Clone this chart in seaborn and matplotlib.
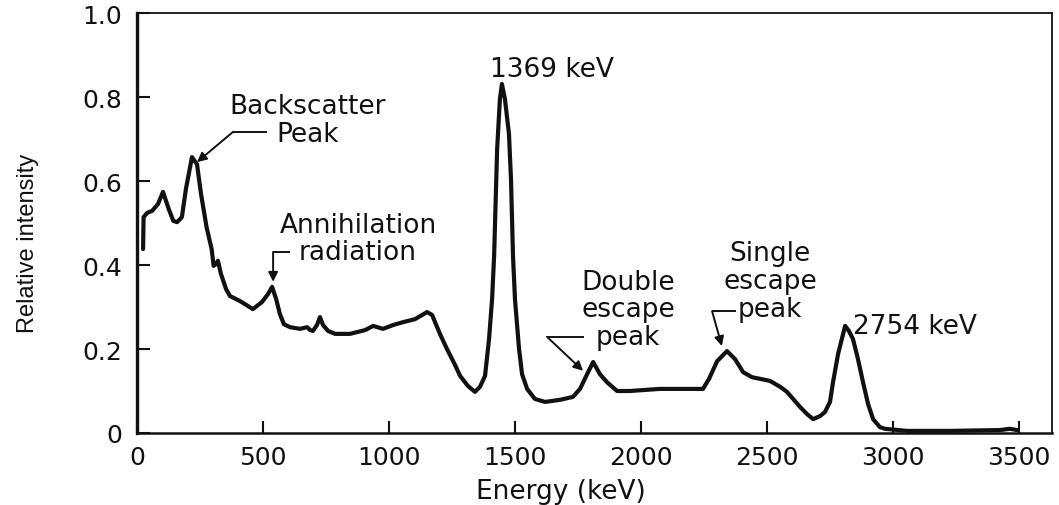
import matplotlib
matplotlib.use("Agg")
import matplotlib.pyplot as plt
import seaborn as sns
import pandas as pd

# ---- data ----
energy_kev = [24, 26, 40, 60, 83, 103, 126, 144, 159, 178, 194, 218, 238, 254, 276, 296,
              304, 313, 321, 333, 353, 369, 409, 460, 496, 520, 536, 552, 567, 583, 607,
              647, 675, 687, 698, 714, 726, 738, 758, 786, 845, 905, 937, 976, 1016, 1056,
              1103, 1151, 1171, 1202, 1230, 1262, 1282, 1313, 1341, 1361, 1381, 1397, 1409,
              1417, 1429, 1440, 1448, 1460, 1476, 1484, 1492, 1500, 1516, 1528, 1548, 1579,
              1619, 1679, 1730, 1758, 1786, 1810, 1837, 1865, 1905, 1956, 2075, 2194, 2246,
              2270, 2302, 2341, 2373, 2405, 2440, 2472, 2512, 2552, 2579, 2611, 2631, 2659,
              2683, 2710, 2730, 2750, 2762, 2782, 2810, 2825, 2841, 2861, 2881, 2901, 2921,
              2948, 2968, 3056, 3226, 3425, 3464, 3492]
intensity = [0.438, 0.514, 0.524, 0.529, 0.545, 0.574, 0.533, 0.505, 0.502, 0.514, 0.581,
             0.657, 0.640, 0.569, 0.490, 0.438, 0.398, 0.402, 0.410, 0.379, 0.343, 0.326,
             0.314, 0.295, 0.312, 0.331, 0.348, 0.319, 0.283, 0.259, 0.252, 0.248, 0.252,
             0.245, 0.243, 0.257, 0.276, 0.257, 0.243, 0.236, 0.236, 0.245, 0.255, 0.248,
             0.257, 0.264, 0.271, 0.288, 0.281, 0.236, 0.200, 0.162, 0.136, 0.112, 0.098,
             0.110, 0.136, 0.224, 0.319, 0.421, 0.676, 0.795, 0.831, 0.795, 0.712, 0.605,
             0.421, 0.317, 0.200, 0.140, 0.105, 0.081, 0.074, 0.079, 0.086, 0.105, 0.140,
             0.169, 0.140, 0.121, 0.100, 0.100, 0.105, 0.105, 0.105, 0.129, 0.171, 0.195,
             0.176, 0.145, 0.133, 0.129, 0.124, 0.110, 0.098, 0.076, 0.062, 0.045, 0.033,
             0.040, 0.050, 0.074, 0.121, 0.188, 0.255, 0.243, 0.224, 0.176, 0.121, 0.069,
             0.033, 0.014, 0.010, 0.005, 0.005, 0.007, 0.010, 0.007]

x_ticks = [0, 500, 1000, 1500, 2000, 2500, 3000, 3500]
y_ticks = [0, 0.2, 0.4, 0.6, 0.8, 1.0]
y_tick_labels = ["0", "0.2", "0.4", "0.6", "0.8", "1.0"]

# annotation texts and anchor points (text pos, horizontal-line end, kink, arrow head)
labels = ["Backscatter\nPeak", "Annihilation\nradiation", "Double\nescape\npeak",
          "Single\nescape\npeak"]
label_xy = [(675, 0.745), (877, 0.463), (1948, 0.295), (2512, 0.362)]
line_end = [(516, 0.717), (607, 0.431), (1775, 0.229), (2375, 0.290)]
kink = [(381, 0.717), (540, 0.431), (1627, 0.229), (2282, 0.290)]
head = [(238, 0.645), (540, 0.360), (1770, 0.148), (2321, 0.207)]
peak_labels = ["1369 keV", "2754 keV"]
peak_label_xy = [(1401, 0.867), (2841, 0.255)]

# ---- plotting ----
sns.set_theme(style="ticks")
plt.rcParams["font.family"] = ["DejaVu Sans"]

fig = plt.figure(figsize=(10.59, 5.06), dpi=100)
ax = fig.add_axes([0.1294, 0.1423, 0.8640, 0.8300])

df = pd.DataFrame({"Energy (keV)": energy_kev, "Relative intensity": intensity})
sns.lineplot(data=df, x="Energy (keV)", y="Relative intensity", ax=ax,
             color="#111111", lw=3.0, sort=False, estimator=None)

ax.set_xlim(0, 3631)
ax.set_ylim(0, 1.0)
ax.set_xticks(x_ticks)
ax.set_xticklabels([str(t) for t in x_ticks])
ax.set_yticks(y_ticks)
ax.set_yticklabels(y_tick_labels)
ax.tick_params(axis="x", direction="in", length=9, width=1.5, pad=9,
               labelsize=18, colors="#111111")
ax.tick_params(axis="y", direction="in", length=9, width=1.5, pad=11,
               labelsize=18, colors="#111111")

for side, w in [("left", 2.4), ("bottom", 1.8), ("top", 1.3), ("right", 1.3)]:
    ax.spines[side].set_visible(True)
    ax.spines[side].set_linewidth(w)
    ax.spines[side].set_color("#111111")

ax.set_xlabel("Energy (keV)", fontsize=19, color="#111111")
ax.set_ylabel("Relative intensity", fontsize=17, color="#111111",
              family=["Liberation Sans", "DejaVu Sans"])
ax.xaxis.set_label_coords(0.4634, -0.138)
ax.xaxis.label.set_va("center")
ax.yaxis.set_label_coords(-0.119, 0.455)
ax.yaxis.label.set_va("center")

for txt, (tx, ty), le, kp, hd in zip(labels, label_xy, line_end, kink, head):
    ax.text(tx, ty, txt, ha="center", va="center", fontsize=19,
            multialignment="center", linespacing=1.08, color="#111111")
    ax.plot([le[0], kp[0]], [le[1], kp[1]], color="#111111", lw=1.4,
            solid_capstyle="butt")
    ax.annotate("", xy=hd, xytext=kp,
                arrowprops=dict(arrowstyle="-|>", color="#111111", lw=1.4,
                                mutation_scale=14, shrinkA=0, shrinkB=0))

for txt, (tx, ty) in zip(peak_labels, peak_label_xy):
    ax.text(tx, ty, txt, ha="left", va="center", fontsize=19, color="#111111")

fig.savefig("out.png", dpi=100, facecolor="white")
